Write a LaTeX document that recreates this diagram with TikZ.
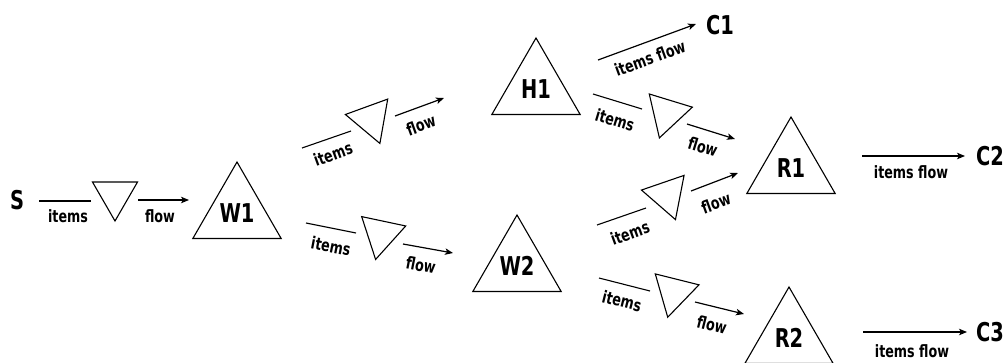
\documentclass[tikz,border=0pt]{standalone}
\usepackage{fontspec}
\newfontfamily\handfont{DejaVu Sans}[FakeStretch=0.75]
\usetikzlibrary{shapes.geometric,arrows.meta}

\begin{document}
\begin{tikzpicture}[x=1bp, y=-1bp, line width=1.1bp,
    stock/.style={regular polygon, regular polygon sides=3, draw, minimum size=102bp, inner sep=0pt, font=\handfont\bfseries\fontsize{26}{26}\selectfont},
    valve/.style={regular polygon, regular polygon sides=3, shape border rotate=180, draw, minimum size=52bp, inner sep=0pt},
    endpt/.style={inner sep=0pt, font=\handfont\bfseries\fontsize{26}{26}\selectfont},
    lbl/.style={inner sep=0pt, font=\handfont\bfseries\fontsize{17}{17}\selectfont},
    flowarrow/.style={-{Stealth[length=8bp,width=6.5bp,inset=2bp]}, line width=1.2bp}]
  \useasboundingbox (0,0) rectangle (1005,362);

  % stocks and ends
  \node[endpt] (S) at (17,200) {S};
  \node[stock] (W1) at (237,213) {W1};
  \node[stock] (H1) at (536,89) {H1};
  \node[stock] (W2) at (517,266) {W2};
  \node[stock] (R1) at (791,168) {R1};
  \node[stock] (R2) at (789,338) {R2};
  \node[endpt] (C1) at (720,25) {C1};
  \node[endpt] (C2) at (990,156) {C2};
  \node[endpt] (C3) at (990,332) {C3};

  % S -> W1
  \coordinate (i1a) at (39,201);  \coordinate (i1b) at (91,201);
  \node[valve] (v1) at (115,195) {};
  \coordinate (f1a) at (138,200); \coordinate (f1b) at (189,200);
  \draw (i1a) -- (i1b);
  \draw[flowarrow] (f1a) -- (f1b);
  \node[lbl] (t1) at (68,216) {items};
  \node[lbl] (u1) at (160,216) {flow};

  % W1 -> H1
  \coordinate (i2a) at (302,148); \coordinate (i2b) at (351,131);
  \node[valve, rotate=20] (v2) at (371,119) {};
  \coordinate (f2a) at (395,116); \coordinate (f2b) at (444,98);
  \draw (i2a) -- (i2b);
  \draw[flowarrow] (f2a) -- (f2b);
  \node[lbl, rotate=20] (t2) at (333,154) {items};
  \node[lbl, rotate=20] (u2) at (421,125) {flow};

  % W1 -> W2
  \coordinate (i3a) at (306,223); \coordinate (i3b) at (356,233);
  \node[valve, rotate=-12] (v3) at (381,234) {};
  \coordinate (f3a) at (403,244); \coordinate (f3b) at (453,253);
  \draw (i3a) -- (i3b);
  \draw[flowarrow] (f3a) -- (f3b);
  \node[lbl, rotate=-11] (t3) at (331,246) {items};
  \node[lbl, rotate=-11] (u3) at (421,265) {flow};

  % H1 -> C1
  \coordinate (f4a) at (598,60); \coordinate (f4b) at (696,24);
  \draw[flowarrow] (f4a) -- (f4b);
  \node[lbl, rotate=20] (t4) at (650,58) {items flow};

  % H1 -> R1
  \coordinate (i5a) at (593,94); \coordinate (i5b) at (642,109);
  \node[valve, rotate=-17] (v5) at (667,113) {};
  \coordinate (f5a) at (687,124); \coordinate (f5b) at (735,139);
  \draw (i5a) -- (i5b);
  \draw[flowarrow] (f5a) -- (f5b);
  \node[lbl, rotate=-17] (t5) at (615,120) {items};
  \node[lbl, rotate=-17] (u5) at (703,147) {flow};

  % W2 -> R1
  \coordinate (i6a) at (597,225); \coordinate (i6b) at (646,208);
  \node[valve, rotate=19] (v6) at (667,195) {};
  \coordinate (f6a) at (691,191); \coordinate (f6b) at (738,173);
  \draw (i6a) -- (i6b);
  \draw[flowarrow] (f6a) -- (f6b);
  \node[lbl, rotate=20] (t6) at (630,233) {items};
  \node[lbl, rotate=20] (u6) at (716,203) {flow};

  % W2 -> R2
  \coordinate (i7a) at (599,278); \coordinate (i7b) at (650,291);
  \node[valve, rotate=-14] (v7) at (674,292) {};
  \coordinate (f7a) at (695,302); \coordinate (f7b) at (744,314);
  \draw (i7a) -- (i7b);
  \draw[flowarrow] (f7a) -- (f7b);
  \node[lbl, rotate=-14] (t7) at (622,301) {items};
  \node[lbl, rotate=-14] (u7) at (712,325) {flow};

  % R1 -> C2, R2 -> C3
  \coordinate (f8a) at (862,156); \coordinate (f8b) at (965,156);
  \draw[flowarrow] (f8a) -- (f8b);
  \node[lbl] (t8) at (911,172) {items flow};
  \coordinate (f9a) at (863,332); \coordinate (f9b) at (967,332);
  \draw[flowarrow] (f9a) -- (f9b);
  \node[lbl] (t9) at (912,351) {items flow};
\end{tikzpicture}
\end{document}
